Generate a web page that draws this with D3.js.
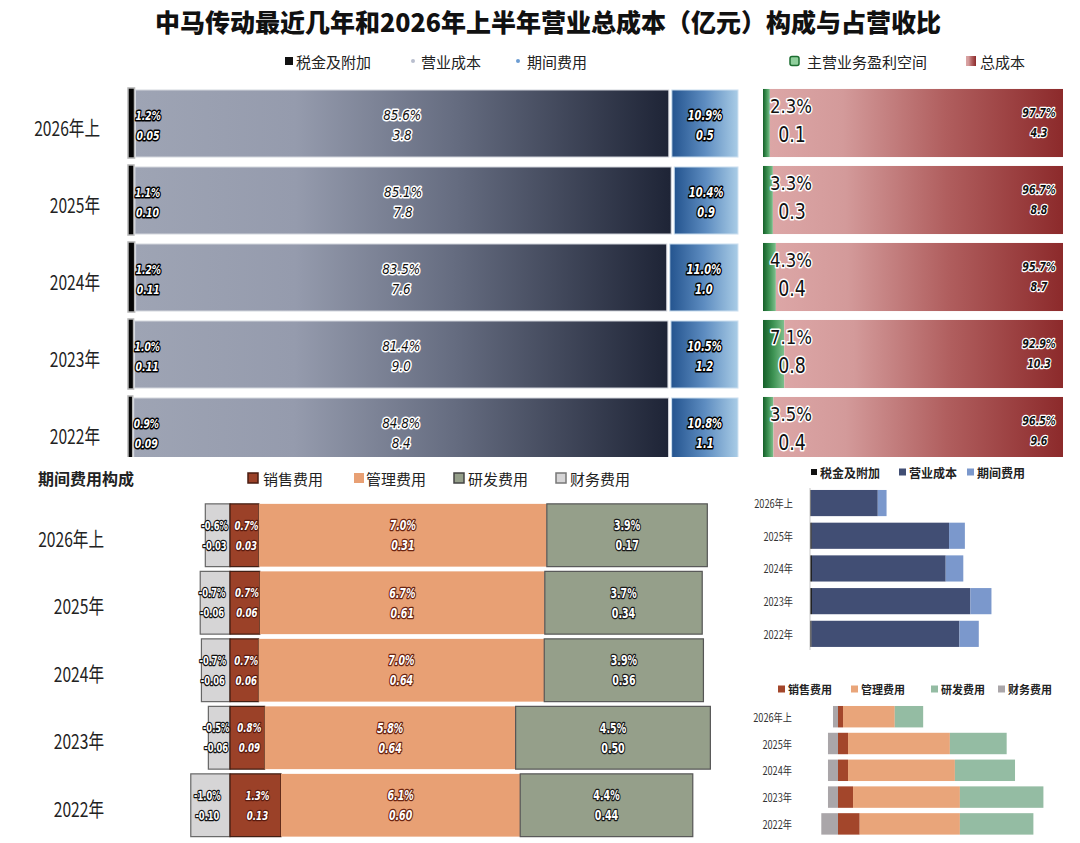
<!DOCTYPE html>
<html>
<head>
<meta charset="utf-8">
<script src="https://cdn.jsdelivr.net/npm/d3@7"></script>
<style>
  body { margin: 0; background: #fff; }
  svg { display: block; }
</style>
</head>
<body>
<div id="chart"></div>
<script>
// データ ------------------------------------------------------------------------------
const years = ['2026年上', '2025年', '2024年', '2023年', '2022年'];
// 营业总成本构成（占营收%、亿元）
const taxPct = [1.2, 1.1, 1.2, 1.0, 0.9];
const taxVal = [0.05, 0.10, 0.11, 0.11, 0.09];
const costPct = [85.6, 85.1, 83.5, 81.4, 84.8];
const costVal = [3.8, 7.8, 7.6, 9.0, 8.4];
const periodPct = [10.9, 10.4, 11.0, 10.5, 10.8];
const periodVal = [0.5, 0.9, 1.0, 1.2, 1.1];
// 盈利空间 / 总成本
const profitPct = [2.3, 3.3, 4.3, 7.1, 3.5];
const profitVal = [0.1, 0.3, 0.4, 0.8, 0.4];
const totalPct = [97.7, 96.7, 95.7, 92.9, 96.5];
const totalVal = [4.3, 8.8, 8.7, 10.3, 9.6];
// 期间费用构成
const salesPct = [0.7, 0.7, 0.7, 0.8, 1.3];
const salesVal = [0.03, 0.06, 0.06, 0.09, 0.13];
const mgmtPct = [7.0, 6.7, 7.0, 5.8, 6.1];
const mgmtVal = [0.31, 0.61, 0.64, 0.64, 0.60];
const rdPct = [3.9, 3.7, 3.9, 4.5, 4.4];
const rdVal = [0.17, 0.34, 0.36, 0.50, 0.44];
const finPct = [-0.6, -0.7, -0.7, -0.5, -1.0];
const finVal = [-0.03, -0.06, -0.06, -0.06, -0.10];

const NUM_FONT = '"DejaVu Sans Condensed", "DejaVu Sans", sans-serif';
const CJK_FONT = '"Noto Sans CJK SC", sans-serif';

const svg = d3.select('#chart').append('svg')
  .attr('width', 1080)
  .attr('height', 843);
const defs = svg.append('defs');

// グラデーション ------------------------------------------------------------------------
function grad (id, stops) {
  const g = defs.append('linearGradient').attr('id', id)
    .attr('x1', 0).attr('x2', 1).attr('y1', 0).attr('y2', 0);
  stops.forEach(s => g.append('stop').attr('offset', s[0]).attr('stop-color', s[1]));
}
grad('gCost', [[0, '#9ea4b4'], [0.3, '#959bad'], [0.6, '#656c80'], [1, '#1e2436']]);
grad('gPeriod', [[0, '#24548f'], [0.5, '#5d8cc0'], [1, '#a9cce6']]);
grad('gProfit', [[0, '#145f28'], [0.5, '#3f9455'], [1, '#7fc08e']]);
grad('gTotal', [[0, '#dca6a6'], [0.25, '#d39a9a'], [0.6, '#b05e5e'], [1, '#8c2a2b']]);

defs.append('clipPath').attr('id', 'clipTop')
  .append('rect').attr('x', 0).attr('y', 80).attr('width', 1080).attr('height', 377);

// 横方向に詰める（細い書体の代わり）
function squeeze (sel, f) {
  sel.each(function () {
    const w = this.getComputedTextLength();
    d3.select(this).attr('textLength', w * f).attr('lengthAdjust', 'spacingAndGlyphs');
  });
  return sel;
}

function label (g, x, y, txt, o) {
  const t = g.append('text')
    .attr('x', x).attr('y', y)
    .attr('text-anchor', o.anchor || 'middle')
    .attr('dominant-baseline', 'central')
    .attr('font-family', o.family || NUM_FONT)
    .attr('font-size', o.size || 13)
    .attr('font-weight', o.weight || 'bold')
    .attr('font-style', o.italic === false ? 'normal' : 'italic')
    .attr('fill', o.fill)
    .attr('stroke', o.stroke)
    .attr('stroke-width', o.sw || 3)
    .attr('stroke-linejoin', 'round')
    .attr('paint-order', 'stroke')
    .text(txt);
  return squeeze(t, o.sq || 1);
}
function yLabel (g, x, y, txt, size, f) {
  const t = g.append('text').attr('x', x).attr('y', y)
    .attr('text-anchor', 'end').attr('dominant-baseline', 'central')
    .attr('font-family', CJK_FONT).attr('font-size', size).attr('fill', '#222')
    .text(txt);
  return squeeze(t, f);
}
const p1 = v => v.toFixed(1) + '%';

// タイトル ---------------------------------------------------------------------------------
svg.append('text')
  .attr('x', 548).attr('y', 21)
  .attr('text-anchor', 'middle').attr('dominant-baseline', 'central')
  .attr('font-family', '"Noto Sans CJK SC", sans-serif')
  .attr('font-size', 25).attr('font-weight', 900)
  .attr('fill', '#111')
  .text('中马传动最近几年和2026年上半年营业总成本（亿元）构成与占营收比');

// 凡例 -------------------------------------------------------------------------------------
function legend (items, y, size, font, weight) {
  const g = svg.append('g');
  items.forEach(it => {
    if (it.shape === 'dot') {
      g.append('circle').attr('cx', it.x + 3).attr('cy', y).attr('r', 2).attr('fill', it.color);
    } else {
      g.append('rect').attr('x', it.x).attr('y', y - it.s / 2).attr('width', it.s).attr('height', it.s)
        .attr('rx', it.rx || 0)
        .attr('fill', it.color).attr('stroke', it.stroke || 'none').attr('stroke-width', 1.5);
    }
    g.append('text').attr('x', it.tx).attr('y', y)
      .attr('dominant-baseline', 'central')
      .attr('font-family', font).attr('font-size', size).attr('font-weight', weight)
      .attr('fill', '#222').text(it.name);
  });
}
legend([
  {name: '税金及附加', x: 285, tx: 296, s: 8, color: '#111'},
  {name: '营业成本', x: 410, tx: 421, shape: 'dot', color: '#b9bece'},
  {name: '期间费用', x: 515, tx: 527, shape: 'dot', color: '#6c9cd2'},
  {name: '主营业务盈利空间', x: 790, tx: 807, s: 9, rx: 2, color: '#8fcf9c', stroke: '#1c6e30'},
  {name: '总成本', x: 966, tx: 980, s: 10, color: 'url(#gTotal)'}
], 61, 15, '"Noto Sans CJK SC", sans-serif', 400);

// 上段：营业总成本构成 --------------------------------------------------------------------------
const yTop = d3.scaleBand().domain(years).range([84.5, 469.5]).paddingInner(0.09).paddingOuter(0.045);
const topG = svg.append('g').attr('clip-path', 'url(#clipTop)');

years.forEach((yr, i) => {
  const y0 = yTop(yr);
  const bh = yTop.bandwidth();
  const cy = y0 + bh / 2;
  const x = d3.scaleLinear().domain([0, taxPct[i] + costPct[i] + periodPct[i]]).range([127, 738]);
  const a = x(taxPct[i]);
  const b = x(taxPct[i] + costPct[i]);
  // 税金及附加
  topG.append('rect').attr('x', x(0) + 1).attr('y', y0).attr('width', a - x(0) - 1).attr('height', bh)
    .attr('fill', '#050505').attr('stroke', '#b8b8b8').attr('stroke-width', 1.5);
  // 营业成本
  topG.append('rect').attr('x', a + 1).attr('y', y0 + 2).attr('width', b - a - 2).attr('height', bh - 3)
    .attr('fill', 'url(#gCost)').attr('stroke', '#d8dbe2').attr('stroke-width', 1);
  // 期间费用
  topG.append('rect').attr('x', b + 2).attr('y', y0 + 2).attr('width', x.range()[1] - b - 2).attr('height', bh - 3)
    .attr('fill', 'url(#gPeriod)').attr('stroke', '#cfe1f1').attr('stroke-width', 1);

  label(topG, a + 1, cy - 8, p1(taxPct[i]), {anchor: 'start', fill: '#fff', stroke: '#000', size: 13, sq: 0.78});
  label(topG, a + 2, cy + 12, taxVal[i].toFixed(2), {anchor: 'start', fill: '#fff', stroke: '#000', size: 13, sq: 0.8});
  label(topG, (a + b) / 2, cy - 8, p1(costPct[i]), {fill: '#111', stroke: '#fff', size: 14, weight: 'normal', sq: 0.95});
  label(topG, (a + b) / 2, cy + 12, costVal[i].toFixed(1), {fill: '#111', stroke: '#fff', size: 14, weight: 'normal', sq: 0.95});
  const pc = (b + 2 + x.range()[1]) / 2;
  label(topG, pc, cy - 8, p1(periodPct[i]), {fill: '#fff', stroke: '#000', size: 13.5, sq: 0.82});
  label(topG, pc, cy + 12, periodVal[i].toFixed(1), {fill: '#fff', stroke: '#000', size: 13.5, sq: 0.82});

  yLabel(svg, 100, cy + 4, yr, 20, 0.78);

  // 右：盈利空间 / 总成本
  const xr = d3.scaleLinear().domain([0, profitPct[i] + totalPct[i]]).range([763, 1063]);
  const m = xr(profitPct[i]);
  topG.append('rect').attr('x', xr(0)).attr('y', y0 + 1).attr('width', m - xr(0)).attr('height', bh - 2)
    .attr('fill', 'url(#gProfit)');
  topG.append('rect').attr('x', m).attr('y', y0 + 1).attr('width', xr.range()[1] - m).attr('height', bh - 2)
    .attr('fill', 'url(#gTotal)');
  label(topG, 791, cy - 17, p1(profitPct[i]), {fill: '#111', stroke: '#fff', size: 20, weight: 'normal', italic: false, sq: 0.92});
  label(topG, 792, cy + 12, profitVal[i].toFixed(1), {fill: '#111', stroke: '#fff', size: 21, weight: 'normal', italic: false, sq: 0.92});
  label(topG, 1039, cy - 11, p1(totalPct[i]), {fill: '#111', stroke: '#fff', size: 13, sw: 2.5, sq: 0.82});
  label(topG, 1039, cy + 9, totalVal[i].toFixed(1), {fill: '#111', stroke: '#fff', size: 13, sw: 2.5, sq: 0.82});
});

// 下段左：期间费用构成 --------------------------------------------------------------------------
svg.append('text').attr('x', 38).attr('y', 478)
  .attr('dominant-baseline', 'central')
  .attr('font-family', '"Noto Sans CJK SC", sans-serif').attr('font-size', 16).attr('font-weight', 'bold')
  .attr('fill', '#222').text('期间费用构成');
legend([
  {name: '销售费用', x: 248, tx: 263, s: 10, color: '#9b4128', stroke: '#4a1c10'},
  {name: '管理费用', x: 354, tx: 366, s: 10, color: '#e8a074'},
  {name: '研发费用', x: 454, tx: 468, s: 10, color: '#959f8a', stroke: '#444'},
  {name: '财务费用', x: 556, tx: 570, s: 10, color: '#d6d5d6', stroke: '#777'}
], 478, 15, '"Noto Sans CJK SC", sans-serif', 400);

const yExp = d3.scaleBand().domain(years).range([501.5, 839]).paddingInner(0.07).paddingOuter(0.035);
const exp = svg.append('g');
const ZERO = 230;
const ROW_W = 502;
years.forEach((yr, i) => {
  const y0 = yExp(yr);
  const bh = yExp.bandwidth();
  const cy = y0 + bh / 2;
  const pos = salesPct[i] + mgmtPct[i] + rdPct[i];
  const neg = -finPct[i];
  const k = ROW_W / (pos + neg);
  const x = d3.scaleLinear().domain([-neg, pos]).range([ZERO - neg * k, ZERO + pos * k]);
  const segs = [
    {a: finPct[i], b: 0, fill: '#d6d5d6', stroke: '#666', pct: finPct[i], val: finVal[i], lf: '#fff', ls: '#111', it: false, dx: -3, sz: 12.5, sq: 0.74},
    {a: 0, b: salesPct[i], fill: '#9b4128', stroke: '#3d1a10', pct: salesPct[i], val: salesVal[i], lf: '#fff', ls: '#5a1a0e', it: true, dx: 2, sz: 13, sq: 0.74},
    {a: salesPct[i], b: salesPct[i] + mgmtPct[i], fill: '#e8a074', stroke: 'none', pct: mgmtPct[i], val: mgmtVal[i], lf: '#fff', ls: '#6b2410', it: true, dx: 0, sz: 13.5, sq: 0.78},
    {a: salesPct[i] + mgmtPct[i], b: pos, fill: '#959f8a', stroke: '#555', pct: rdPct[i], val: rdVal[i], lf: '#fff', ls: '#1a1a1a', it: false, dx: 0, sz: 13.5, sq: 0.78}
  ];
  segs.forEach(s => {
    exp.append('rect').attr('x', x(s.a)).attr('y', y0).attr('width', x(s.b) - x(s.a)).attr('height', bh)
      .attr('fill', s.fill).attr('stroke', s.stroke).attr('stroke-width', 1.2);
  });
  segs.forEach(s => {
    const cx = (x(s.a) + x(s.b)) / 2 + s.dx;
    label(exp, cx, cy - 10, p1(s.pct), {fill: s.lf, stroke: s.ls, size: s.sz, italic: s.it, sq: s.sq, sw: 2.6});
    label(exp, cx, cy + 10, s.val.toFixed(2), {fill: s.lf, stroke: s.ls, size: s.sz, italic: s.it, sq: s.sq, sw: 2.6});
  });
  yLabel(svg, 104, cy + 3, yr, 20, 0.78);
});

// 下段右1：营业总成本（亿元） ---------------------------------------------------------------------
legend([
  {name: '税金及附加', x: 811, tx: 820, s: 6, color: '#111'},
  {name: '营业成本', x: 899, tx: 909, s: 7, color: '#414e74'},
  {name: '期间费用', x: 967, tx: 977, s: 7, color: '#7b98cc'}
], 472, 12, '"Noto Sans CJK SC", sans-serif', 'bold');
const ySm1 = d3.scaleBand().domain(years).range([486.7, 650.2]).paddingInner(0.2).paddingOuter(0.1);
const xSm1 = d3.scaleLinear().domain([0, 10]).range([810, 986]);
const sm1 = svg.append('g');
years.forEach((yr, i) => {
  const y0 = ySm1(yr);
  const bh = ySm1.bandwidth();
  const stack = [[0, taxVal[i], '#111'], [taxVal[i], taxVal[i] + costVal[i], '#414e74'],
    [taxVal[i] + costVal[i], taxVal[i] + costVal[i] + periodVal[i], '#7b98cc']];
  stack.forEach(s => {
    sm1.append('rect').attr('x', xSm1(s[0])).attr('y', y0).attr('width', xSm1(s[1]) - xSm1(s[0])).attr('height', bh)
      .attr('fill', s[2]);
  });
  yLabel(sm1, 793, y0 + bh / 2, yr, 11.5, 0.8).attr('fill', '#333');
});
sm1.append('line').attr('x1', 810).attr('x2', 810).attr('y1', 488).attr('y2', 650)
  .attr('stroke', '#c8c8c8').attr('stroke-width', 1);

// 下段右2：期间费用（亿元） -----------------------------------------------------------------------
legend([
  {name: '销售费用', x: 778, tx: 788, s: 7, color: '#a3462b'},
  {name: '管理费用', x: 851, tx: 861, s: 7, color: '#e9a57a'},
  {name: '研发费用', x: 931, tx: 941, s: 7, color: '#94bca3'},
  {name: '财务费用', x: 998, tx: 1008, s: 7, color: '#aaa6a9'}
], 689, 11, '"Noto Sans CJK SC", sans-serif', 'bold');
const ySm2 = d3.scaleBand().domain(years).range([703.3, 837.3]).paddingInner(0.2).paddingOuter(0.1);
const xSm2 = d3.scaleLinear().domain([0, 1]).range([838, 1005]);
const sm2 = svg.append('g');
years.forEach((yr, i) => {
  const y0 = ySm2(yr);
  const bh = ySm2.bandwidth();
  const s1 = salesVal[i];
  const s2 = s1 + mgmtVal[i];
  const s3 = s2 + rdVal[i];
  const stack = [[finVal[i], 0, '#aaa6a9'], [0, s1, '#a3462b'], [s1, s2, '#e9a57a'], [s2, s3, '#94bca3']];
  stack.forEach(s => {
    sm2.append('rect').attr('x', xSm2(s[0])).attr('y', y0).attr('width', xSm2(s[1]) - xSm2(s[0])).attr('height', bh)
      .attr('fill', s[2]);
  });
  yLabel(sm2, 792, y0 + bh / 2, yr, 11.5, 0.8).attr('fill', '#333');
});
</script>
</body>
</html>
